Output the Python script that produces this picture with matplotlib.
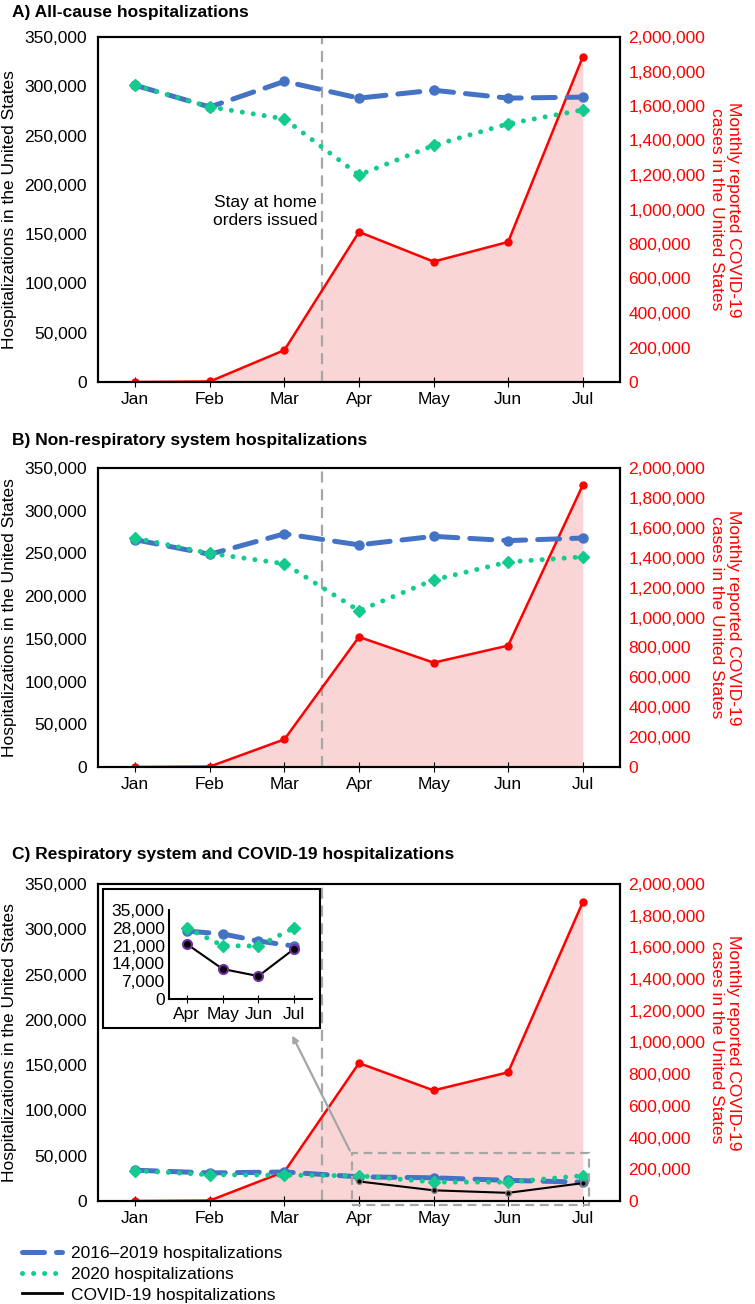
import matplotlib
matplotlib.use("Agg")
import matplotlib.pyplot as plt
from matplotlib.patches import Rectangle, FancyArrowPatch
from matplotlib.lines import Line2D
from matplotlib.ticker import FuncFormatter, MultipleLocator

plt.rcParams['font.family'] = ['Liberation Sans', 'DejaVu Sans']

months = ["Jan", "Feb", "Mar", "Apr", "May", "Jun", "Jul"]
covid_cases = [0, 3000, 185000, 870000, 698000, 812000, 1884000]

a_2016_2019 = [301000, 279000, 305000, 288000, 296000, 288000, 289000]
a_2020 = [301000, 279000, 267000, 210000, 240000, 262000, 276000]

b_2016_2019 = [266000, 249000, 273000, 260000, 270000, 265000, 268000]
b_2020 = [268000, 250000, 238000, 183000, 219000, 240000, 246000]

c_2016_2019 = [34000, 31000, 32000, 26700, 25600, 22800, 20800]
c_2020 = [33500, 29000, 28500, 27900, 21000, 20800, 28000]
inset_months = ["Apr", "May", "Jun", "Jul"]
covid_hosp = [21600, 11800, 9000, 19700]

titles = ["A) All-cause hospitalizations",
          "B) Non-respiratory system hospitalizations",
          "C) Respiratory system and COVID-19 hospitalizations"]

BLUE = '#4472C4'
GREEN = '#14CB8F'
RED = '#FF0000'
PINK = '#F9D5D5'
GRAY = '#A6A6A6'

W, H = 755, 1304
fig = plt.figure(figsize=(W / 100, H / 100), dpi=100)

def fx(px):
    return px / W

def fy(py):
    return 1 - py / H

L, R = 98, 620
panels = [(37, 382), (468, 767), (884, 1201)]
title_y = [12, 440, 855]

comma = FuncFormatter(lambda v, p: f"{int(v):,}")
x = list(range(len(months)))

series = [(a_2016_2019, a_2020), (b_2016_2019, b_2020), (c_2016_2019, c_2020)]
axes = []
for i, ((top, bot), (s1, s2)) in enumerate(zip(panels, series)):
    ax2 = fig.add_axes([fx(L), fy(bot), fx(R - L), (bot - top) / H])
    ax = ax2.twinx()
    # ax2: covid cases (drawn underneath); ax: hospitalizations (on top)
    ax2.yaxis.tick_right()
    ax.yaxis.tick_left()
    ax2.fill_between(x, covid_cases, 0, color=PINK, lw=0, zorder=1)
    ax2.plot(x, covid_cases, color=RED, lw=1.8, marker='o', ms=5, zorder=3)
    ax2.set_ylim(0, 2000000)
    ax2.yaxis.set_major_locator(MultipleLocator(200000))
    ax2.yaxis.set_major_formatter(comma)
    ax2.tick_params(axis='y', colors=RED, length=0, labelsize=12.5, pad=6)
    ax2.axvline(2.5, color=GRAY, lw=1.6, dashes=(5, 3), zorder=2)

    ax.plot(x, s1, color=BLUE, lw=3.6, dashes=(4.4, 2.4), dash_capstyle='round',
            marker='o', ms=6.5, zorder=4)
    ax.plot(x, s2, color=GREEN, lw=3.6, dashes=(0.01, 2.2), dash_capstyle='round',
            marker='D', ms=6, zorder=5)
    if i == 2:
        ax.plot(x[3:], covid_hosp, color='black', lw=1.5, marker='o', ms=4,
                mfc='black', mec='#808080', mew=1, zorder=6)
    ax.set_ylim(0, 350000)
    ax.yaxis.set_major_locator(MultipleLocator(50000))
    ax.yaxis.set_major_formatter(comma)
    ax.tick_params(axis='y', length=0, labelsize=12.5, pad=8)
    ax.set_xlim(-0.5, 6.5)
    ax2.set_xlim(-0.5, 6.5)
    ax2.set_xticks(x)
    ax2.set_xticklabels(months)
    ax2.tick_params(axis='x', direction='inout', length=7, labelsize=12.5, pad=4)
    for a in (ax, ax2):
        for s in a.spines.values():
            s.set_linewidth(1.5)
    ax.set_zorder(ax2.get_zorder() + 1)
    ax.patch.set_visible(False)

    ax2.text((10 - L) / (R - L), 0.5, "Hospitalizations in the United States",
             transform=ax2.transAxes, fontsize=12.5, rotation=90,
             ha='center', va='center')
    ax2.text((725 - L) / (R - L), 0.5,
             "Monthly reported COVID-19\ncases in the United States",
             transform=ax2.transAxes, fontsize=12.5, color=RED, rotation=270,
             ha='center', va='center', linespacing=1.25, multialignment='center')

    fig.text(fx(12), fy(title_y[i]), titles[i], fontsize=12.5, fontweight='bold',
             ha='left', va='center')
    axes.append((ax, ax2))

# annotation in panel A
axA, axA2 = axes[0]
axA.text(2.44, 173000, "Stay at home\norders issued", fontsize=12.5, ha='right',
         va='center', multialignment='center', zorder=7)

# panel C highlight box and arrow
axC, axC2 = axes[2]
rect = Rectangle((2.9, -4000), 3.18, 57000, fill=False, edgecolor=GRAY, lw=1.6,
                 linestyle=(0, (4, 2.5)), clip_on=False, zorder=8)
axC.add_patch(rect)

# inset frame
frame = Rectangle((fx(103), fy(1028)), fx(320 - 103), (1028 - 889) / H,
                  transform=fig.transFigure, facecolor='white', edgecolor='black',
                  lw=1.5, zorder=10)
fig.add_artist(frame)

arrow = FancyArrowPatch(posA=(fx(351), fy(1153)), posB=(fx(291), fy(1033)),
                        transform=fig.transFigure, arrowstyle='-|>', mutation_scale=9,
                        color=GRAY, lw=1.6, zorder=11)
fig.add_artist(arrow)

ins = fig.add_axes([fx(169), fy(999), fx(312 - 169), (999 - 910) / H])
ins.set_zorder(20)
xi = list(range(len(inset_months)))
ins.plot(xi, c_2016_2019[3:], color=BLUE, lw=3.6, dashes=(4.4, 2.4),
         dash_capstyle='round', marker='o', ms=6.5)
ins.plot(xi, c_2020[3:], color=GREEN, lw=3.6, dashes=(0.01, 2.2),
         dash_capstyle='round', marker='D', ms=6)
ins.plot(xi, covid_hosp, color='black', lw=1.5, marker='o', ms=6.5, mfc='black',
         mec='#7030A0', mew=1.5)
ins.set_xlim(-0.5, 3.5)
ins.set_ylim(0, 35000)
ins.yaxis.set_major_locator(MultipleLocator(7000))
ins.yaxis.set_major_formatter(comma)
ins.set_xticks(xi)
ins.set_xticklabels(inset_months)
ins.tick_params(axis='x', direction='inout', length=6, labelsize=12.5, pad=3)
ins.tick_params(axis='y', length=0, labelsize=12.5, pad=3)
ins.spines['top'].set_visible(False)
ins.spines['right'].set_visible(False)
for s in ('left', 'bottom'):
    ins.spines[s].set_linewidth(1.5)

# legend
handles = [
    Line2D([], [], color=BLUE, lw=3.6, dashes=(4.4, 2.4), dash_capstyle='round'),
    Line2D([], [], color=GREEN, lw=3.6, dashes=(0.01, 2.2), dash_capstyle='round'),
    Line2D([], [], color='black', lw=2),
]
labels = ["2016\u20132019 hospitalizations", "2020 hospitalizations",
          "COVID-19 hospitalizations"]
fig.legend(handles, labels, loc='upper left', bbox_to_anchor=(fx(22), fy(1246)),
           frameon=False, fontsize=12.5, handlelength=2.3, handletextpad=0.5,
           labelspacing=0.32, borderaxespad=0, borderpad=0)

fig.savefig("out.png", dpi=100)
